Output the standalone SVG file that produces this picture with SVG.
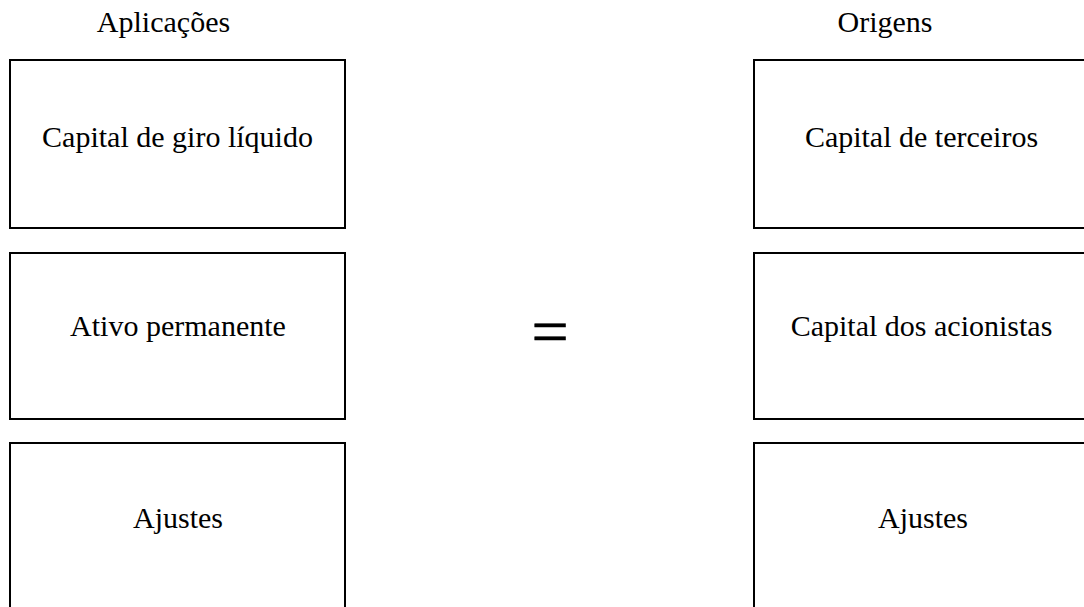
<svg xmlns="http://www.w3.org/2000/svg" width="1084" height="607" viewBox="0 0 1084 607">
<style>
.box{fill:#fff;stroke:#000;stroke-width:2}
.t{font-family:"Liberation Serif","Times New Roman",serif;font-size:30px;fill:#000;text-anchor:middle}
</style>
<rect width="1084" height="607" fill="#fff"/>
<g id="header-left"><text class="t" x="163.5" y="32">Aplicações</text></g>
<g id="header-right"><text class="t" x="885" y="32">Origens</text></g>
<g id="node-capital-giro"><rect class="box" x="10" y="60" width="335" height="168"/><text class="t" x="177.5" y="147">Capital de giro líquido</text></g>
<g id="node-ativo"><rect class="box" x="10" y="253" width="335" height="166"/><text class="t" x="178" y="336">Ativo permanente</text></g>
<g id="node-ajustes-left"><rect class="box" x="10" y="443" width="335" height="180"/><text class="t" x="178" y="528">Ajustes</text></g>
<g id="node-capital-terceiros"><rect class="box" x="754" y="60" width="335" height="168"/><text class="t" x="921.5" y="147">Capital de terceiros</text></g>
<g id="node-capital-acionistas"><rect class="box" x="754" y="253" width="335" height="166"/><text class="t" x="921.5" y="336">Capital dos acionistas</text></g>
<g id="node-ajustes-right"><rect class="box" x="754" y="443" width="335" height="180"/><text class="t" x="923" y="528">Ajustes</text></g>
<g id="connectors"><text x="550" y="354" font-family="Liberation Serif, Times New Roman, serif" font-size="66" text-anchor="middle" fill="#000" stroke="#000" stroke-width="0.6">=</text></g>
</svg>
